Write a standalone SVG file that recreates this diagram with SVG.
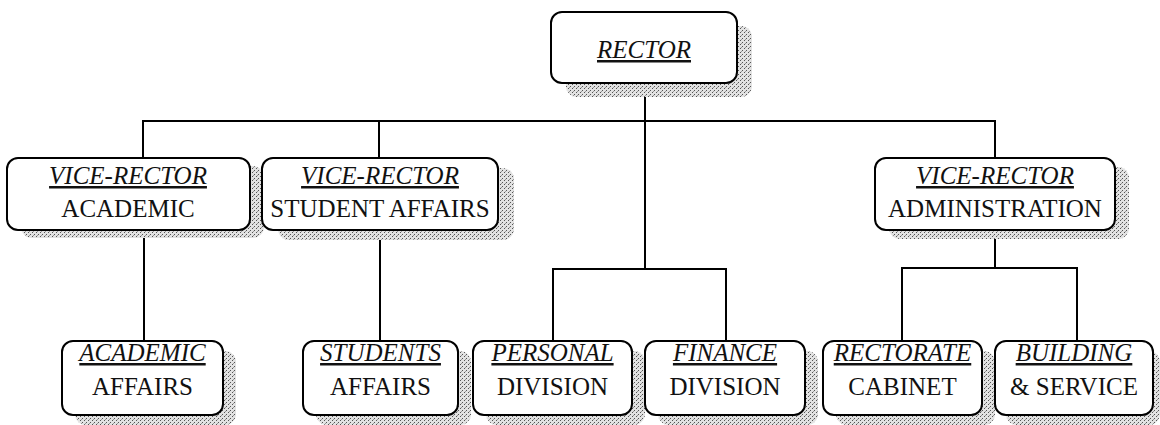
<svg xmlns="http://www.w3.org/2000/svg" width="1160" height="425" viewBox="0 0 1160 425">
  <style>
    .box { fill: #ffffff; stroke: #000; stroke-width: 2; }
    .shadow { fill: url(#stipple); stroke: none; }
    .t { font-family: "Liberation Serif", "DejaVu Serif", serif; font-size: 25px; fill: #111; text-anchor: middle; }
    .i { font-style: italic; text-decoration: underline; }
    .conn line { stroke: #000; stroke-width: 2; stroke-linecap: square; }
  </style>
  <defs>
    <pattern id="stipple" width="4" height="4" patternUnits="userSpaceOnUse">
      <rect width="4" height="4" fill="#e2e2e2"/>
      <rect x="0" y="0" width="1" height="1" fill="#555"/>
      <rect x="2" y="2" width="1" height="1" fill="#555"/>
      <rect x="1" y="3" width="1" height="1" fill="#999"/>
    </pattern>
  </defs>
  <rect width="1160" height="425" fill="#ffffff"/>

  <g id="connectors" class="conn">
    <line x1="645" y1="83" x2="645" y2="269"/>
    <line x1="143" y1="121" x2="995" y2="121"/>
    <line x1="143" y1="121" x2="143" y2="158"/>
    <line x1="379" y1="121" x2="379" y2="158"/>
    <line x1="995" y1="121" x2="995" y2="158"/>
    <line x1="144" y1="230" x2="144" y2="341"/>
    <line x1="380" y1="230" x2="380" y2="341"/>
    <line x1="553" y1="269" x2="726" y2="269"/>
    <line x1="553" y1="269" x2="553" y2="341"/>
    <line x1="726" y1="269" x2="726" y2="341"/>
    <line x1="995" y1="230" x2="995" y2="268"/>
    <line x1="902" y1="268" x2="1077" y2="268"/>
    <line x1="902" y1="268" x2="902" y2="341"/>
    <line x1="1077" y1="268" x2="1077" y2="341"/>
  </g>

  <g id="rector">
    <rect class="shadow" x="566" y="26" width="186" height="71" rx="11"/>
    <rect class="box" x="551" y="12" width="186" height="71" rx="11"/>
    <text class="t i" x="644" y="58">RECTOR</text>
  </g>

  <g id="vr-academic">
    <rect class="shadow" x="21" y="166" width="243" height="72" rx="11"/>
    <rect class="box" x="7" y="158" width="243" height="72" rx="11"/>
    <text class="t i" x="128" y="184">VICE-RECTOR</text>
    <text class="t" x="128" y="217">ACADEMIC</text>
  </g>

  <g id="vr-student">
    <rect class="shadow" x="278" y="168" width="236" height="72" rx="11"/>
    <rect class="box" x="262" y="158" width="236" height="72" rx="11"/>
    <text class="t i" x="380" y="184">VICE-RECTOR</text>
    <text class="t" x="380" y="217">STUDENT AFFAIRS</text>
  </g>

  <g id="vr-admin">
    <rect class="shadow" x="889" y="167" width="240" height="72" rx="11"/>
    <rect class="box" x="875" y="158" width="240" height="72" rx="11"/>
    <text class="t i" x="995" y="184">VICE-RECTOR</text>
    <text class="t" x="995" y="217">ADMINISTRATION</text>
  </g>

  <g id="academic-affairs">
    <rect class="shadow" x="75" y="351" width="161" height="74" rx="11"/>
    <rect class="box" x="62" y="341" width="161" height="74" rx="11"/>
    <text class="t i" x="142.5" y="361">ACADEMIC</text>
    <text class="t" x="142.5" y="395">AFFAIRS</text>
  </g>

  <g id="students-affairs">
    <rect class="shadow" x="316" y="351" width="155" height="74" rx="11"/>
    <rect class="box" x="303" y="341" width="155" height="74" rx="11"/>
    <text class="t i" x="380.5" y="361">STUDENTS</text>
    <text class="t" x="380.5" y="395">AFFAIRS</text>
  </g>

  <g id="personal-division">
    <rect class="shadow" x="486" y="351" width="159" height="74" rx="11"/>
    <rect class="box" x="473" y="341" width="159" height="74" rx="11"/>
    <text class="t i" x="552.5" y="361">PERSONAL</text>
    <text class="t" x="552.5" y="395">DIVISION</text>
  </g>

  <g id="finance-division">
    <rect class="shadow" x="658" y="351" width="160" height="74" rx="11"/>
    <rect class="box" x="645" y="341" width="160" height="74" rx="11"/>
    <text class="t i" x="725" y="361">FINANCE</text>
    <text class="t" x="725" y="395">DIVISION</text>
  </g>

  <g id="rectorate-cabinet">
    <rect class="shadow" x="836" y="351" width="159" height="74" rx="11"/>
    <rect class="box" x="823" y="341" width="159" height="74" rx="11"/>
    <text class="t i" x="902.5" y="361">RECTORATE</text>
    <text class="t" x="902.5" y="395">CABINET</text>
  </g>

  <g id="building-service">
    <rect class="shadow" x="1006" y="351" width="154" height="74" rx="11"/>
    <rect class="box" x="995" y="341" width="158" height="74" rx="11"/>
    <text class="t i" x="1074" y="361">BUILDING</text>
    <text class="t" x="1074" y="395">&amp; SERVICE</text>
  </g>
</svg>
